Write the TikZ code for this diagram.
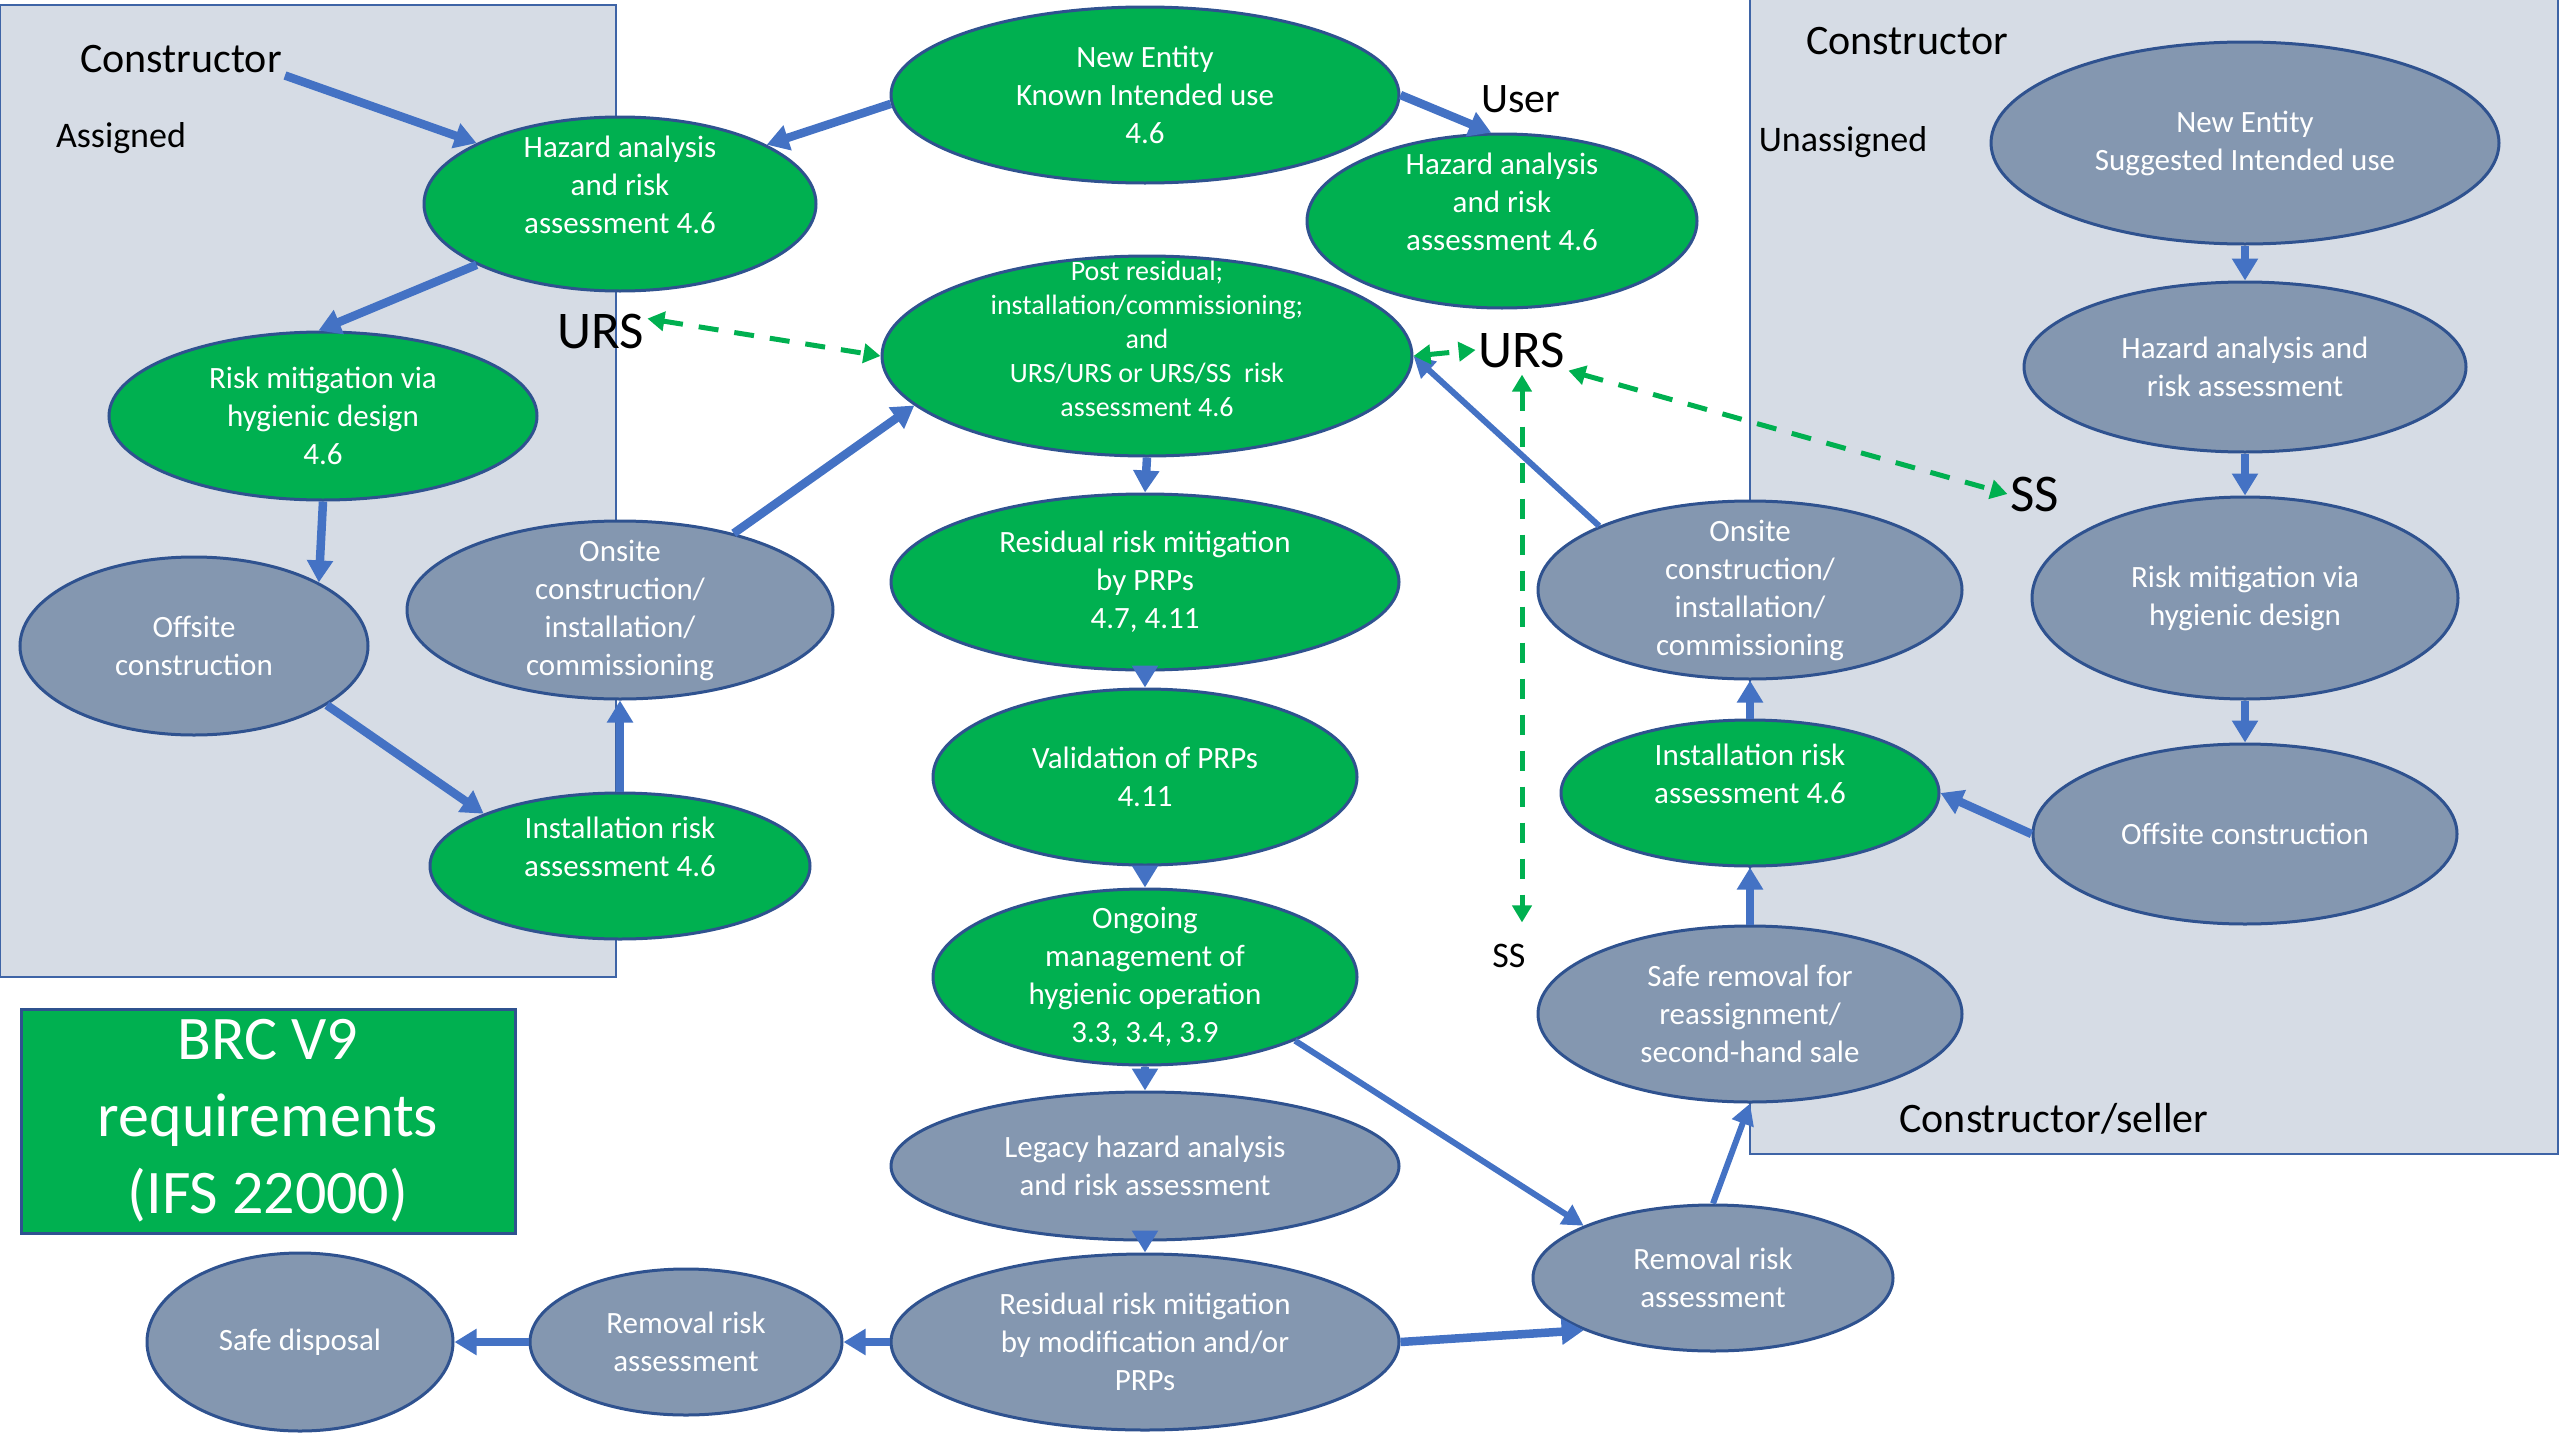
\documentclass[tikz,border=0pt]{standalone}
\usepackage{fontspec}
\setmainfont{Carlito}
\usetikzlibrary{arrows.meta,shapes.geometric}

\definecolor{gfill}{HTML}{00B050}
\definecolor{gyfill}{HTML}{8497B0}
\definecolor{panelfill}{HTML}{D6DCE5}
\definecolor{panelline}{HTML}{3E64A6}
\definecolor{olc}{HTML}{2F528F}
\definecolor{arrc}{HTML}{4472C4}

% one ellipse with its white text centred on it
\newcommand\bubble[6]{%
  \node[#1, minimum width=#4, minimum height=#5] (#2) at (#3) {};
  \node[txt] (#2-t) at (#2) {#6};}

\tikzset{
  base/.style={ellipse, draw=olc, line width=3pt, inner sep=0pt},
  gn/.style={base, fill=gfill},
  gy/.style={base, fill=gyfill},
  txt/.style={text=white, font=\fontsize{31}{38}\selectfont, align=center, inner sep=0pt},
  panel/.style={fill=panelfill, draw=panelline, line width=2.5pt},
  lbl/.style={anchor=base, inner sep=3pt, font=\fontsize{42}{50}\selectfont},
  lblmid/.style={anchor=base, inner sep=3pt, font=\fontsize{36}{44}\selectfont},
  lblbig/.style={anchor=base, inner sep=3pt, font=\fontsize{53}{62}\selectfont},
  arr/.style={draw=arrc, line width=8.5pt, -{Triangle[length=22pt,width=25pt]}},
  arrthin/.style={arr, line width=6pt, -{Triangle[length=21pt,width=22pt]}},
  linkdash/.style={draw=gfill, line width=5pt, dash pattern=on 20pt off 16pt,
    {Triangle[length=17pt,width=19pt]}-{Triangle[length=17pt,width=19pt]}},
}

\begin{document}
\begin{tikzpicture}[x=1pt,y=-1pt]
\useasboundingbox (0,0) rectangle (2560,1440);

% group panels
\draw[panel] (0,5) rectangle (616,977);
\draw[panel] (1750,-2) rectangle (2558,1154);

% panel and link labels
\node[lbl] (con1) at (181,72) {Constructor};
\node[lblmid] (asg) at (121,147) {Assigned};
\node[lblbig] (urs1) at (601,348) {URS};
\node[lbl] (user) at (1521,112) {User};
\node[lblbig] (urs2) at (1522,367) {URS};
\node[lbl] (con2) at (1907,54) {Constructor};
\node[lblmid] (unasg) at (1843,151) {Unassigned};
\node[lblbig] (ss1) at (2035,511) {SS};
\node[lblmid] (ss2) at (1509,967) {SS};
\node[lbl] (con3) at (2054,1132) {Constructor/seller};

% standard box
\node[fill=gfill, draw=olc, line width=3pt, minimum width=494pt, minimum height=224pt,
      text=white, align=center, font=\fontsize{62}{77}\selectfont, inner sep=0pt]
      (brc) at (268,1121) {BRC V9\\requirements\\(IFS 22000)};

% middle column
\bubble{gn}{ne}{1145,95}{508pt}{176pt}{New Entity\\Known Intended use\\4.6}
\bubble{gn}{lhaz}{620,204}{392pt}{174pt}{Hazard analysis\\and risk\\assessment 4.6\\\mbox{}}
\bubble{gn}{uhaz}{1502,221}{390pt}{174pt}{Hazard analysis\\and risk\\assessment 4.6\\\mbox{}}
\node[gn, minimum width=530pt, minimum height=200pt] (post) at (1147,356) {};
\node[txt, font=\fontsize{28}{34}\selectfont] (post-t) at (post)
  {Post residual;\\installation/commissioning;\\and\\URS/URS or URS/SS\ \ risk\\assessment 4.6\\\mbox{}};
\bubble{gn}{prp}{1145,582}{508pt}{176pt}{Residual risk mitigation\\by PRPs\\4.7, 4.11}
\bubble{gn}{val}{1145,777}{424pt}{176pt}{Validation of PRPs\\4.11}
\bubble{gn}{ong}{1145,977}{424pt}{176pt}{Ongoing\\management of\\hygienic operation\\3.3, 3.4, 3.9}
\bubble{gy}{leg}{1145,1166}{508pt}{148pt}{Legacy hazard analysis\\and risk assessment}
\bubble{gy}{rmod}{1145,1342}{508pt}{176pt}{Residual risk mitigation\\by modification and/or\\PRPs}
\bubble{gy}{rem1}{686,1342}{312pt}{146pt}{Removal risk\\assessment}
\bubble{gy}{sd}{300,1342}{306pt}{178pt}{Safe disposal}

% assigned (left) panel
\bubble{gn}{lrisk}{323,416}{428pt}{168pt}{Risk mitigation via\\hygienic design\\4.6}
\bubble{gy}{loff}{194,646}{348pt}{178pt}{Offsite\\construction}
\bubble{gy}{lon}{620,610}{426pt}{178pt}{Onsite\\construction/\\installation/\\commissioning}
\bubble{gn}{linst}{620,866}{380pt}{146pt}{Installation risk\\assessment 4.6\\\mbox{}}

% right-hand chain
\bubble{gy}{rem2}{1713,1278}{360pt}{146pt}{Removal risk\\assessment}
\bubble{gy}{sr}{1750,1014}{424pt}{176pt}{Safe removal for\\reassignment/\\second-hand sale}
\bubble{gn}{rinst}{1750,793}{378pt}{146pt}{Installation risk\\assessment 4.6\\\mbox{}}
\bubble{gy}{ron}{1750,590}{424pt}{178pt}{Onsite\\construction/\\installation/\\commissioning}

% unassigned (right) panel
\bubble{gy}{rne}{2245,143}{508pt}{202pt}{New Entity\\Suggested Intended use}
\bubble{gy}{rhaz}{2245,367}{442pt}{170pt}{Hazard analysis and\\risk assessment}
\bubble{gy}{rrisk}{2245,598}{426pt}{202pt}{Risk mitigation via\\hygienic design}
\bubble{gy}{roff}{2245,834}{424pt}{180pt}{Offsite construction}

% flow connectors
\draw[arr] (con1.south east) -- (lhaz.157);
\draw[arr] (ne.182) -- (lhaz.22);
\draw[arr] (ne.east) -- (uhaz.97);
\draw[arr] (lhaz.203) -- (lrisk.93);
\draw[arr] (lrisk.270) -- (loff.27);
\draw[arr] (loff.-24) -- (linst.159);
\draw[arr] (linst.north) -- (lon.south);
\draw[arr] (lon.34) -- (post.192);
\draw[arr] (post.south) -- (prp.north);
\draw[arr] (prp.south) -- (val.north);
\draw[arr] (val.south) -- (ong.north);
\draw[arr] (ong.south) -- (leg.north);
\draw[arr] (leg.south) -- (rmod.north);
\draw[arr] (rmod.west) -- (rem1.east);
\draw[arr] (rem1.west) -- (sd.east);
\draw[arr] (rmod.east) -- (rem2.202);
\draw[arrthin] (ong.-23) -- (rem2.158);
\draw[arrthin] (rem2.north) -- (sr.south);
\draw[arr] (sr.north) -- (rinst.south);
\draw[arr] (rinst.north) -- (ron.south);
\draw[arrthin] (ron.157) -- (post.east);
\draw[arr] (roff.west) -- (rinst.east);
\draw[arr] (rne.south) -- (rhaz.north);
\draw[arr] (rhaz.south) -- (rrisk.north);
\draw[arr] (rrisk.south) -- (roff.north);

% specification links
\draw[linkdash] (urs1.15) -- (post.west);
\draw[linkdash] (post.east) -- (urs2.west);
\draw[linkdash] (urs2.south east) -- (ss1.west);
\draw[linkdash, shorten <=4pt, shorten >=18pt] (urs2.south) -- (urs2.south |- ss2.north);
\end{tikzpicture}
\end{document}
